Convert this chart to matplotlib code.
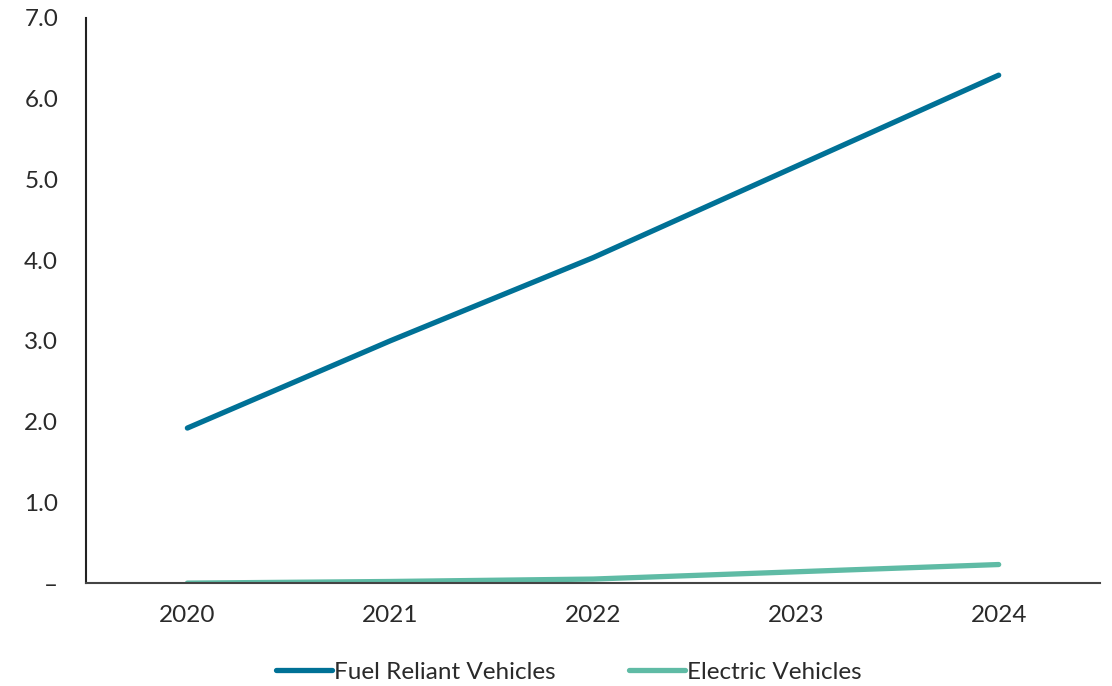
import matplotlib.pyplot as plt
from matplotlib.ticker import FuncFormatter

years = ["2020", "2021", "2022", "2023", "2024"]
fuel_reliant = [1.92, 3.0, 4.03, 5.16, 6.29]
electric = [0.0, 0.02, 0.05, 0.14, 0.23]

plt.rcParams['font.family'] = ['Lato', 'DejaVu Sans']

fig = plt.figure(figsize=(11.12, 6.86), dpi=100)
ax = fig.add_axes([0.0773, 0.150, 0.912, 0.824])

x = range(len(years))
ax.plot(x, fuel_reliant, color="#007196", lw=3.8, solid_capstyle='round',
        label="Fuel Reliant Vehicles")
ax.plot(x, electric, color="#5fbba5", lw=3.8, solid_capstyle='round',
        label="Electric Vehicles")

ax.set_xlim(-0.5, len(years) - 0.5)
ax.set_ylim(0, 7)
ax.set_xticks(list(x))
ax.set_xticklabels(years)
ax.set_yticks([0, 1, 2, 3, 4, 5, 6, 7])
ax.yaxis.set_major_formatter(FuncFormatter(lambda v, p: "–" if v == 0 else f"{v:.1f}"))
ax.tick_params(length=0, labelsize=17.5, colors="#2a2a2a")
ax.tick_params(axis='y', pad=20)
ax.tick_params(axis='x', pad=16)

for s in ['top', 'right']:
    ax.spines[s].set_visible(False)
ax.spines['left'].set_color("#222222")
ax.spines['bottom'].set_color("#444444")
ax.spines['left'].set_linewidth(1.5)
ax.spines['bottom'].set_linewidth(1.5)

leg = ax.legend(loc='upper center', bbox_to_anchor=(0.476, -0.1), ncol=2, frameon=False,
                fontsize=17.5, handlelength=2.3, handletextpad=0.1, columnspacing=3.0)
for t in leg.get_texts():
    t.set_color("#2a2a2a")

fig.savefig("out.png", dpi=100)
